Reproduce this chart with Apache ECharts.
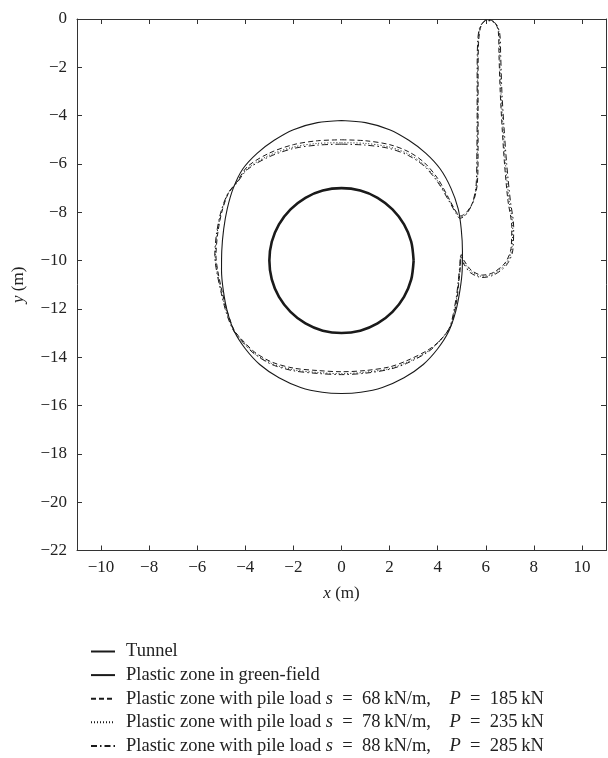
<!DOCTYPE html>
<html>
<head>
<meta charset="utf-8">
<script src="https://cdn.jsdelivr.net/npm/echarts@6/dist/echarts.min.js"></script>
<style>
  html, body { margin: 0; padding: 0; background: #fff; }
  #chart { width: 608px; height: 758px; }
</style>
</head>
<body>
<div id="chart"></div>
<script>
// tick values on both axes
var xTicks = [-10, -8, -6, -4, -2, 0, 2, 4, 6, 8, 10];
var yTicks = [0, -2, -4, -6, -8, -10, -12, -14, -16, -18, -20, -22];

var seriesNames = [
  "Tunnel",
  "Plastic zone in green-field",
  "Plastic zone with pile load s = 68 kN/m, P = 185 kN",
  "Plastic zone with pile load s = 78 kN/m, P = 235 kN",
  "Plastic zone with pile load s = 88 kN/m, P = 285 kN"
];

// tunnel outline (x, y) in m
var tunnel = [
  [3, -10], [2.9, -9.22], [2.6, -8.5], [2.12, -7.88], [1.5, -7.4], [0.78, -7.1],
  [0, -7], [-0.78, -7.1], [-1.5, -7.4], [-2.12, -7.88], [-2.6, -8.5], [-2.9, -9.22],
  [-3, -10], [-2.9, -10.78], [-2.6, -11.5], [-2.12, -12.12], [-1.5, -12.6], [-0.78, -12.9],
  [0, -13], [0.78, -12.9], [1.5, -12.6], [2.12, -12.12], [2.6, -11.5], [2.9, -10.78],
  [3, -10]
];

// plastic zone, green-field
var greenField = [
  [0, -4.2], [1, -4.29], [2, -4.58], [2.8, -5.02], [3.5, -5.55], [4.1, -6.2],
  [4.55, -7.0], [4.85, -7.85], [4.98, -8.7], [5.03, -9.6], [5.02, -10.4], [4.93, -11.2],
  [4.75, -12.1], [4.45, -12.95], [4.0, -13.65], [3.4, -14.3], [2.6, -14.85], [1.7, -15.25],
  [0.8, -15.45], [0, -15.5], [-0.8, -15.45], [-1.7, -15.25], [-2.6, -14.85], [-3.4, -14.3],
  [-4.0, -13.65], [-4.45, -12.95], [-4.75, -12.1], [-4.92, -11.2], [-4.99, -10.4], [-4.98, -9.6],
  [-4.9, -8.7], [-4.75, -7.85], [-4.5, -7.0], [-4.1, -6.2], [-3.5, -5.55], [-2.8, -5.02],
  [-2, -4.58], [-1, -4.29], [0, -4.2]
];

// plastic zone with pile load s = 68
var pile68 = [
  [0, -5.0], [1, -5.04], [2, -5.2], [2.8, -5.5], [3.45, -5.95], [4.0, -6.6],
  [4.45, -7.4], [4.75, -7.95], [4.95, -8.15], [5.2, -8.0], [5.5, -7.5], [5.65, -6.8],
  [5.68, -5.5], [5.68, -4], [5.68, -2.5], [5.7, -1], [5.8, -0.3], [6.05, -0.03],
  [6.35, -0.12], [6.52, -0.5], [6.55, -1.5], [6.6, -3], [6.68, -4.5], [6.78, -6],
  [6.92, -7.5], [7.08, -8.6], [7.05, -9.5], [6.8, -10.1], [6.3, -10.5], [5.85, -10.6],
  [5.4, -10.4], [5.1, -10.0], [4.98, -9.75], [4.95, -10.2], [4.88, -10.9], [4.8, -11.6],
  [4.55, -12.7], [4.1, -13.3], [3.6, -13.7], [2.7, -14.15], [2.0, -14.4], [1.0, -14.55],
  [0, -14.6], [-1.0, -14.55], [-2.0, -14.45], [-2.9, -14.2], [-3.6, -13.8], [-4.0, -13.42],
  [-4.3, -13.1], [-4.48, -12.85], [-4.72, -12.2], [-4.95, -11.35], [-5.15, -10.4], [-5.22, -9.8],
  [-5.15, -8.9], [-4.98, -8.0], [-4.7, -7.2], [-4.36, -6.75], [-3.9, -6.1], [-3.0, -5.55],
  [-2, -5.2], [-1, -5.04], [0, -5.0]
];

// plastic zone with pile load s = 78
var pile78 = [
  [0, -5.12], [1, -5.15], [2, -5.3], [2.8, -5.6], [3.45, -6.05], [4.0, -6.7],
  [4.45, -7.45], [4.75, -7.98], [4.93, -8.2], [5.18, -8.08], [5.48, -7.55], [5.62, -6.8],
  [5.65, -5.5], [5.66, -4], [5.66, -2.5], [5.68, -1], [5.78, -0.32], [6.05, -0.05],
  [6.38, -0.15], [6.55, -0.55], [6.58, -1.5], [6.63, -3], [6.72, -4.5], [6.82, -6],
  [6.97, -7.5], [7.12, -8.6], [7.08, -9.55], [6.82, -10.15], [6.3, -10.55], [5.85, -10.65],
  [5.38, -10.45], [5.08, -10.05], [4.96, -9.8], [4.93, -10.2], [4.86, -10.9], [4.78, -11.6],
  [4.53, -12.72], [4.08, -13.33], [3.6, -13.75], [2.7, -14.22], [2.0, -14.47], [1.0, -14.62],
  [0, -14.68], [-1.0, -14.63], [-2.0, -14.52], [-2.9, -14.26], [-3.6, -13.85], [-4.0, -13.47],
  [-4.3, -13.13], [-4.5, -12.85], [-4.75, -12.2], [-4.98, -11.35], [-5.18, -10.4], [-5.25, -9.8],
  [-5.18, -8.9], [-5.0, -8.0], [-4.72, -7.22], [-4.38, -6.8], [-3.9, -6.18], [-3.0, -5.64],
  [-2, -5.3], [-1, -5.15], [0, -5.12]
];

// plastic zone with pile load s = 88
var pile88 = [
  [0, -5.18], [1, -5.22], [2, -5.36], [2.8, -5.66], [3.45, -6.1], [4.0, -6.75],
  [4.45, -7.5], [4.75, -8.02], [4.92, -8.25], [5.16, -8.12], [5.45, -7.6], [5.6, -6.85],
  [5.63, -5.5], [5.64, -4], [5.64, -2.5], [5.66, -1], [5.75, -0.35], [6.02, -0.06],
  [6.4, -0.18], [6.58, -0.6], [6.62, -1.5], [6.67, -3], [6.76, -4.5], [6.87, -6],
  [7.02, -7.5], [7.16, -8.6], [7.12, -9.6], [6.85, -10.2], [6.32, -10.6], [5.85, -10.7],
  [5.36, -10.5], [5.06, -10.1], [4.95, -9.85], [4.92, -10.2], [4.85, -10.9], [4.76, -11.6],
  [4.5, -12.75], [4.05, -13.36], [3.6, -13.78], [2.7, -14.26], [2.0, -14.5], [1.0, -14.66],
  [0, -14.72], [-1.0, -14.67], [-2.0, -14.56], [-2.9, -14.3], [-3.6, -13.88], [-4.0, -13.5],
  [-4.3, -13.15], [-4.52, -12.85], [-4.78, -12.2], [-5.0, -11.35], [-5.2, -10.4], [-5.27, -9.8],
  [-5.2, -8.9], [-5.02, -8.0], [-4.74, -7.25], [-4.4, -6.85], [-3.9, -6.22], [-3.0, -5.7],
  [-2, -5.36], [-1, -5.22], [0, -5.18]
];

var FONT = "'Liberation Serif', 'DejaVu Serif', serif";
var INK = "#1a1a1a";
var LEGEND_SIZE = 18.5;

function minusLabel(v) {
  return v < 0 ? "\u2212" + Math.abs(v) : String(v);
}

function mkLine(name, data, width, type) {
  return {
    name: name,
    type: "line",
    data: data,
    symbol: "none",
    showSymbol: false,
    smooth: 0.3,
    animation: false,
    color: INK,
    itemStyle: { color: INK },
    emphasis: { disabled: true },
    lineStyle: { color: INK, width: width, type: type }
  };
}

var axisLineStyle = { color: "#333", width: 1 };
var italic = { fontFamily: FONT, fontSize: 17, fontStyle: "italic", color: "#222" };

var oChart = echarts.init(document.getElementById("chart"));
oChart.setOption({
  backgroundColor: "#fff",
  animation: false,
  grid: { left: 77, right: 2, top: 19, bottom: 207.5 },
  legend: {
    orient: "vertical",
    left: 90,
    top: 642,
    height: 140,
    padding: 0,
    itemWidth: 24,
    itemHeight: 14,
    itemGap: 4.6,
    data: seriesNames,
    selectedMode: false,
    itemStyle: { opacity: 0, borderWidth: 0 },
    textStyle: {
      fontFamily: FONT,
      fontSize: LEGEND_SIZE,
      color: "#222",
      padding: [0, 0, 0, 6],
      rich: {
        i: { fontFamily: FONT, fontSize: LEGEND_SIZE, fontStyle: "italic", color: "#222" }
      }
    },
    formatter: function (name) {
      // math-style spacing for the load values
      return name
        .replace(" s = ", " {i|s}\u2002=\u2002")
        .replace(", P = ", ",\u2003{i|P}\u2002=\u2002")
        .replace(/ kN/g, "\u2009kN");
    }
  },
  xAxis: [
    {
      type: "value",
      min: -11,
      max: 11,
      position: "bottom",
      name: "{i|x} (m)",
      nameLocation: "middle",
      nameGap: 35,
      nameTextStyle: { fontFamily: FONT, fontSize: 17, color: "#222", rich: { i: italic } },
      axisLine: { show: true, onZero: false, lineStyle: axisLineStyle },
      axisTick: { show: true, inside: true, length: 5, customValues: xTicks, lineStyle: axisLineStyle },
      axisLabel: { customValues: xTicks, formatter: minusLabel, fontFamily: FONT, fontSize: 17, color: "#222", margin: 9 },
      splitLine: { show: false }
    },
    {
      type: "value",
      min: -11,
      max: 11,
      position: "top",
      axisLine: { show: true, onZero: false, lineStyle: axisLineStyle },
      axisTick: { show: true, inside: true, length: 5, customValues: xTicks, lineStyle: axisLineStyle },
      axisLabel: { show: false },
      splitLine: { show: false }
    }
  ],
  yAxis: [
    {
      type: "value",
      min: -22,
      max: 0,
      position: "left",
      name: "{i|y} (m)",
      nameLocation: "middle",
      nameRotate: 90,
      nameGap: 50,
      nameTextStyle: { fontFamily: FONT, fontSize: 17, color: "#222", rich: { i: italic } },
      axisLine: { show: true, onZero: false, lineStyle: axisLineStyle },
      axisTick: { show: true, inside: true, length: 5, customValues: yTicks, lineStyle: axisLineStyle },
      axisLabel: { customValues: yTicks, formatter: minusLabel, fontFamily: FONT, fontSize: 17, color: "#222", margin: 10 },
      splitLine: { show: false }
    },
    {
      type: "value",
      min: -22,
      max: 0,
      position: "right",
      axisLine: { show: true, onZero: false, lineStyle: axisLineStyle },
      axisTick: { show: true, inside: true, length: 5, customValues: yTicks, lineStyle: axisLineStyle },
      axisLabel: { show: false },
      splitLine: { show: false }
    }
  ],
  series: [
    mkLine(seriesNames[0], tunnel, 2.6, "solid"),
    mkLine(seriesNames[1], greenField, 1.1, "solid"),
    mkLine(seriesNames[2], pile68, 1, [5, 3]),
    mkLine(seriesNames[3], pile78, 1, [1, 2]),
    mkLine(seriesNames[4], pile88, 1, [6, 3, 1.5, 3])
  ]
});
</script>
</body>
</html>
